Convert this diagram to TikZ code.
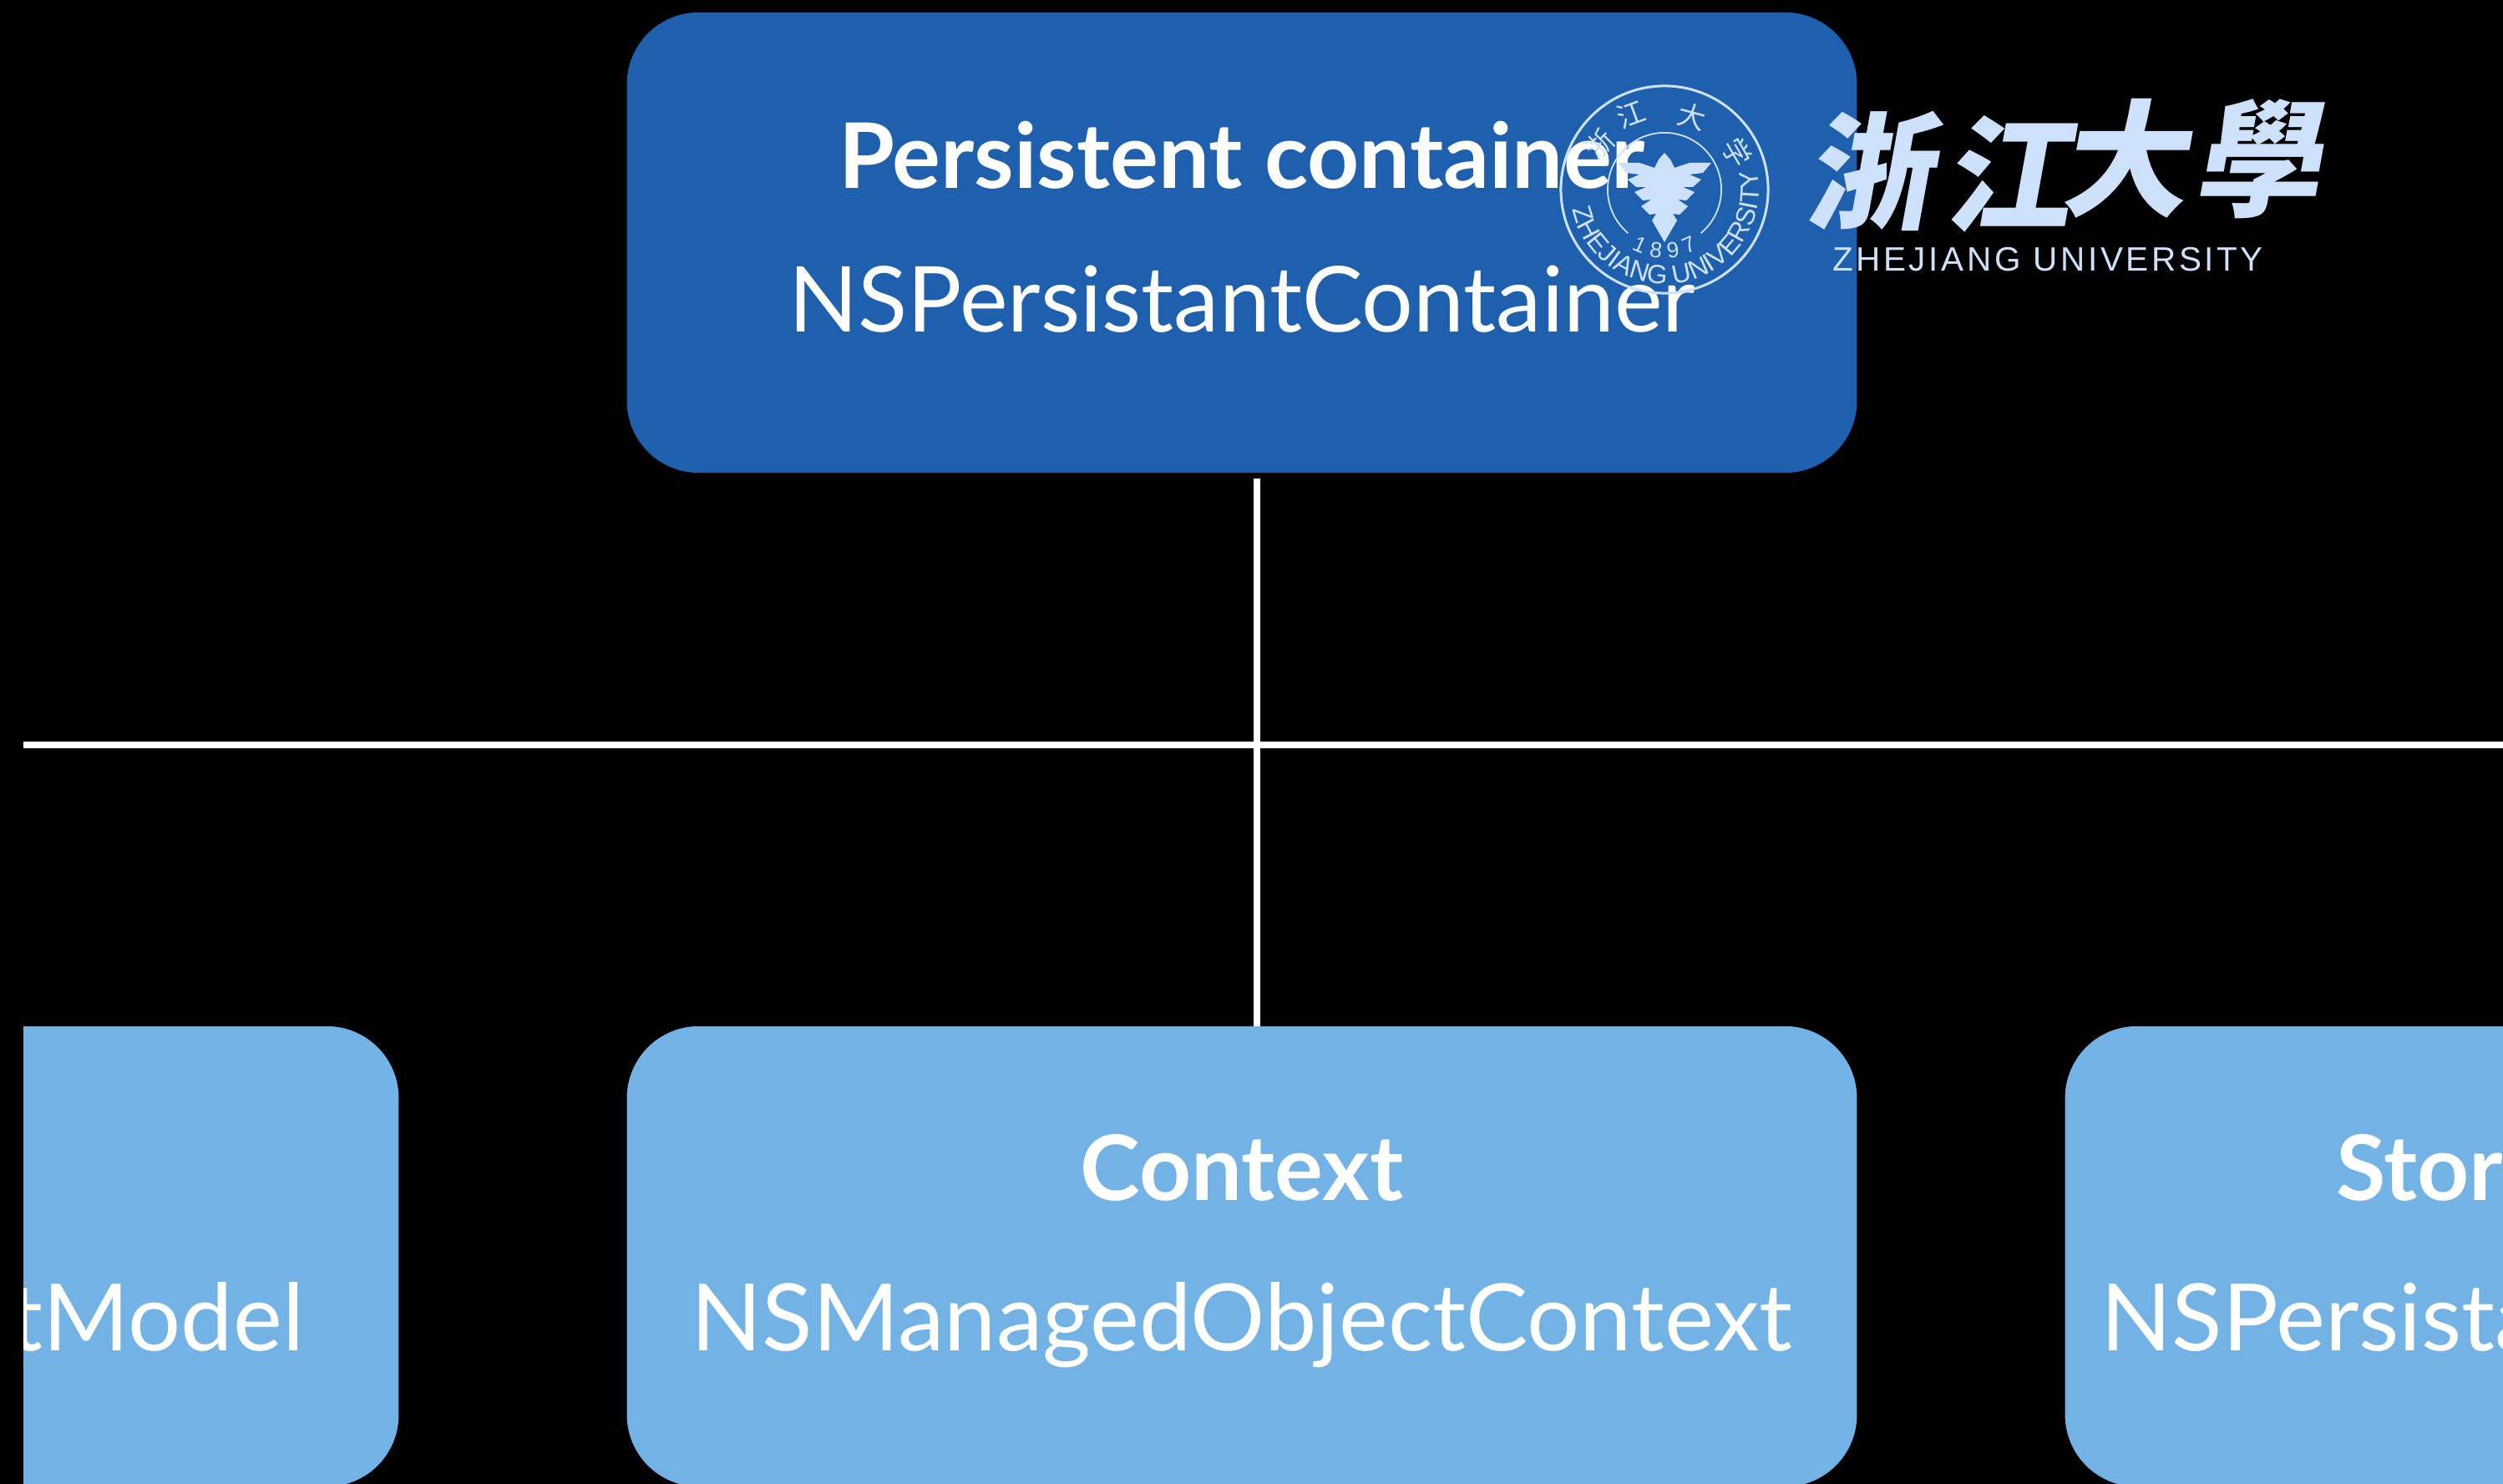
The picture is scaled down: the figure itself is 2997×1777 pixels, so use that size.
\documentclass[tikz,border=0pt]{standalone}
\usepackage{fontspec}
\usetikzlibrary{decorations.text}
\setmainfont{Lato}
\newfontfamily\cjk{Noto Sans CJK TC}
\newfontfamily\zju[LetterSpace=9]{Liberation Sans}
\newfontfamily\zjub{Liberation Sans}
\definecolor{deepblue}{HTML}{1F60AE}
\definecolor{skyblue}{HTML}{72B2E5}
\definecolor{logoblue}{HTML}{CDE2FA}
\tikzset{
  panel/.style={rounded corners=0.86cm,minimum width=14.72cm,minimum height=5.51cm,inner sep=0,outer sep=0,draw=none},
  headtext/.style={text=white,anchor=base,inner sep=0,font=\fontsize{30.8}{31}\selectfont\bfseries},
  subtext/.style={text=white,anchor=base,inner sep=0,font=\fontsize{31}{32}\selectfont},
  widesub/.style={subtext,font=\fontsize{31.7}{32}\selectfont},
  wire/.style={draw=white,line width=0.08cm},
  seal/.style={draw=logoblue},
  cal/.style={text=logoblue,inner sep=0,font=\cjk\bfseries\fontsize{43}{44}\selectfont,xslant=0.18,transform shape},
  sealchar/.style={text=logoblue,inner sep=0,font=\cjk\fontsize{9.5}{10}\selectfont,transform shape},
}
\begin{document}
\begin{tikzpicture}[x=0.01cm,y=-0.01cm]
\useasboundingbox (0,0) rectangle (2997,1777);
\fill[black] (0,0) rectangle (2997,1777);
\begin{scope}
\clip (28,0) rectangle (2997,1777);
\node[panel,fill=deepblue] (top) at (1487,290.5) {};
\node[panel,fill=skyblue] (ctx) at (1487,1504.5) {};
\node[panel,fill=skyblue] (mdl) at (-259,1504.5) {};
\node[panel,fill=skyblue] (sto) at (3209,1504.5) {};
\coordinate (hl) at (28,892);
\coordinate (hr) at (2997,892);
\draw[wire] ([xshift=0.18cm,yshift=-0.07cm]top.south) -- ([xshift=0.18cm]ctx.north);
\draw[wire] (hl) -- (hr);
\node[headtext] (toph) at (1487,226) {Persistent container};
\node[subtext] (tops) at (1487,398) {NSPersistantContainer};
\node[headtext] (ctxh) at (1487,1437) {Context};
\node[widesub] (ctxs) at (1487,1617) {NSManagedObjectContext};
\node[widesub,anchor=base east] (mdls) at (365,1617) {tModel};
\node[headtext,anchor=base west] (stoh) at (2797,1437) {Stor};
\node[widesub,anchor=base west] (stos) at (2515,1617) {NSPersista};
\end{scope}
% logo
\begin{scope}[shift={(1993,227)}]
\node[seal,circle,line width=0.03cm,minimum size=2.48cm,inner sep=0,outer sep=0] (ring) at (0,0) {};
\fill[logoblue] (0,-44) -- (7,-36) -- (12,-26) -- (30,-32) -- (56,-32) -- (46,-20) -- (30,-18) -- (44,-12) -- (34,-3) -- (22,-3) -- (36,3) -- (26,13) -- (16,12) -- (28,20) -- (18,30) -- (10,29) -- (15,37) -- (0,63)
  -- (-15,37) -- (-10,29) -- (-18,30) -- (-28,20) -- (-16,12) -- (-26,13) -- (-36,3) -- (-22,-3) -- (-34,-3) -- (-44,-12) -- (-30,-18) -- (-46,-20) -- (-56,-32) -- (-30,-32) -- (-12,-26) -- (-7,-36) -- cycle;
\begin{scope}[y=0.01cm]
\draw[seal,line width=0.018cm] (-50:68) arc[start angle=-50,end angle=230,radius=0.68cm];
\path[decorate,decoration={text along path,text color=logoblue,text align=fit to path,text={|\zjub\fontsize{9}{10}\selectfont|ZHEJIANG UNIVERSITY}}]
  (192:113) arc[start angle=192,end angle=372,radius=1.13cm];
\path[decorate,decoration={text along path,text color=logoblue,text align=fit to path,text={|\zjub\fontsize{7.5}{8}\selectfont|1897}}]
  (241:82) arc[start angle=241,end angle=299,radius=0.82cm];
\end{scope}
\node[sealchar,rotate=45] (s1) at (-78,-54) {浙};
\node[sealchar,rotate=20] (s2) at (-40,-90) {江};
\node[sealchar,rotate=-15] (s3) at (33,-87) {大};
\node[sealchar,rotate=-60] (s4) at (87,-44) {学};
\end{scope}
\node[cal] (c1) at (2247,205) {浙};
\node[cal] (c2) at (2412,208) {江};
\node[cal] (c3) at (2552,190) {大};
\node[cal] (c4) at (2712,190) {學};
\node[text=logoblue,inner sep=0,font=\zju\fontsize{11.5}{12}\selectfont] (zu) at (2452,311) {ZHEJIANG UNIVERSITY};
\end{tikzpicture}
\end{document}
